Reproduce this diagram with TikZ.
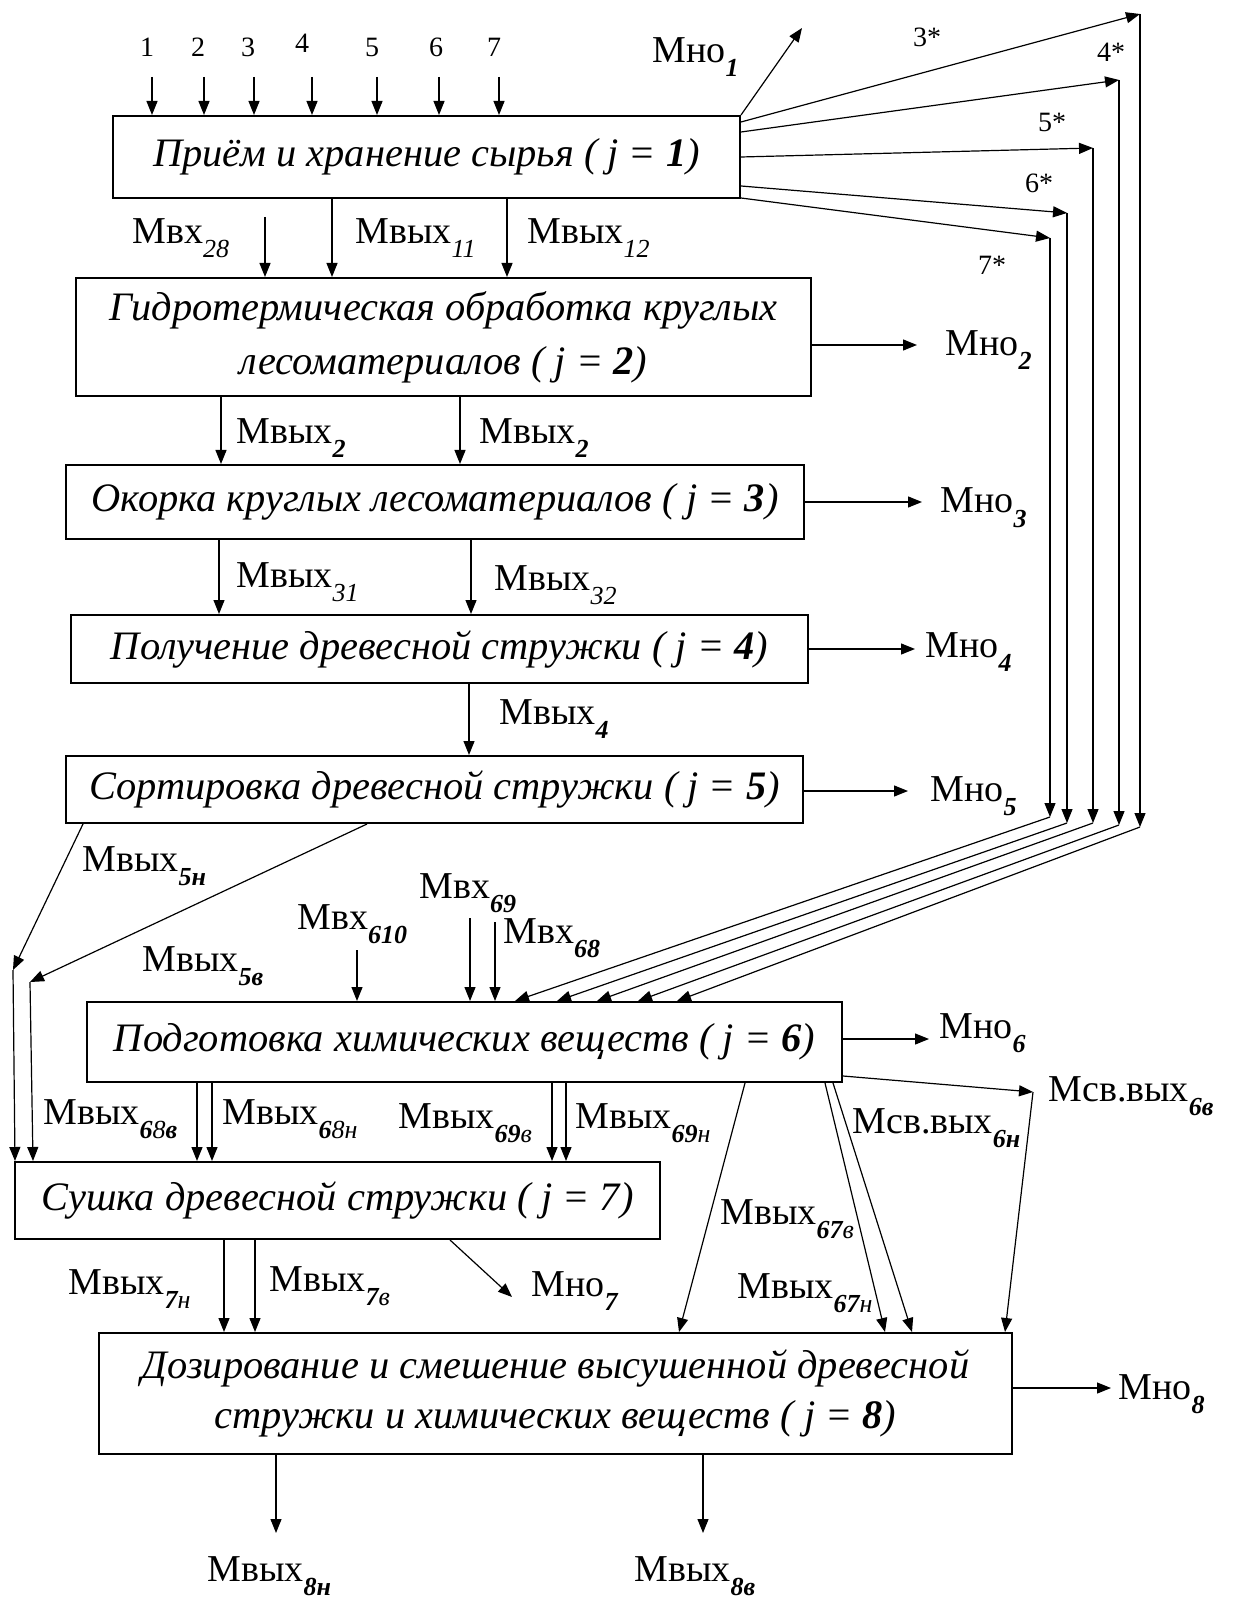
\documentclass[tikz,border=0pt]{standalone}
\usepackage{fontspec}
\setmainfont{Liberation Serif}
\usetikzlibrary{arrows.meta}
\newcommand\lsub[2]{#1\raisebox{-7pt}{\fontsize{13}{13}\selectfont\itshape #2}}
\tikzset{
  arr/.style={-{Triangle[length=7pt,width=5.5pt]}, line width=0.6pt},
  pbox/.style={draw, line width=1pt, inner sep=0pt, align=center,
    font=\fontsize{20.2}{27}\selectfont\itshape},
  lab/.style={anchor=base west, inner sep=0pt, font=\fontsize{19}{22}\selectfont},
  num/.style={inner sep=0pt, font=\fontsize{14}{16}\selectfont}
}
\begin{document}
\begin{tikzpicture}[x=0.5pt,y=-0.5pt]
\useasboundingbox (0,0) rectangle (1233,1598);

% boxes
\node[pbox, minimum width=313.5pt, minimum height=41pt] (b1) at (426.5,157) {Приём и хранение сырья ( j = \textbf{1})};
\node[pbox, minimum width=367.5pt, minimum height=59pt] (b2) at (443.5,337) {Гидротермическая обработка круглых\\ лесоматериалов ( j = \textbf{2})};
\node[pbox, minimum width=369pt, minimum height=37pt] (b3) at (435,502) {Окорка круглых лесоматериалов ( j = \textbf{3})};
\node[pbox, minimum width=368.5pt, minimum height=34pt] (b4) at (439.5,649) {Получение древесной стружки ( j = \textbf{4})};
\node[pbox, minimum width=368.5pt, minimum height=33.5pt] (b5) at (434.5,789.5) {Сортировка древесной стружки ( j = \textbf{5})};
\node[pbox, minimum width=377.5pt, minimum height=40pt] (b6) at (464.5,1042) {Подготовка химических веществ ( j = \textbf{6})};
\node[pbox, minimum width=322.5pt, minimum height=38.5pt] (b7) at (337.5,1200.5) {Сушка древесной стружки ( j = 7)};
\node[pbox, minimum width=456.5pt, minimum height=60.5pt, font=\fontsize{20.2}{25}\selectfont\itshape] (b8) at (555.5,1393.5) {Дозирование и смешение высушенной древесной\\ стружки и химических веществ ( j = \textbf{8})};

% inputs 1..7
\foreach \x/\lx/\ly/\n in {152/147/47/1,204/198/47/2,254/248/47/3,312/302/43/4,377/372/47/5,439/436/47/6,499/494/47/7}{
  \node[num] (n\n) at (\lx,\ly) {\n};
  \coordinate (in\n) at (\x,77);
  \draw[arr] (in\n) -- (b1.north -| in\n);
}

% Mno1
\coordinate (m1) at (802,28);
\draw[arr] (b1.north east) -- (m1);
\node[lab] (lm1) at (652,63) {\lsub{Мно}{\textbf{1}}};

% star outputs
\coordinate (t3) at (1140,14);  \coordinate (t3b) at (1140,827);
\coordinate (t4) at (1119,80);  \coordinate (t4b) at (1119,825);
\coordinate (t5) at (1093,148); \coordinate (t5b) at (1093,823);
\coordinate (t6) at (1067,213); \coordinate (t6b) at (1067,823);
\coordinate (t7) at (1050,238); \coordinate (t7b) at (1050,817);
\draw[arr] (b1.east |- 0,122) -- (t3);
\draw[arr] (b1.east |- 0,132) -- (t4);
\draw[arr] (b1.east |- 0,157) -- (t5);
\draw[arr] (b1.east |- 0,186) -- (t6);
\draw[arr] (b1.east |- 0,198) -- (t7);
\draw[arr] (t3) -- (t3b);
\draw[arr] (t4) -- (t4b);
\draw[arr] (t5) -- (t5b);
\draw[arr] (t6) -- (t6b);
\draw[arr] (t7) -- (t7b);
\draw[arr] (t3b) -- (b6.north -| 677,0);
\draw[arr] (t4b) -- (b6.north -| 638,0);
\draw[arr] (t5b) -- (b6.north -| 597,0);
\draw[arr] (t6b) -- (b6.north -| 557,0);
\draw[arr] (t7b) -- (b6.north -| 515,0);
\node[num] (s3) at (927,37) {3*};
\node[num] (s4) at (1111,52) {4*};
\node[num] (s5) at (1052,122) {5*};
\node[num] (s6) at (1039,183) {6*};
\node[num] (s7) at (992,265) {7*};

% b1 -> b2
\coordinate (v28) at (265,217);
\draw[arr] (v28) -- (b2.north -| v28);
\draw[arr] (b1.south -| 332,0) -- (b2.north -| 332,0);
\draw[arr] (b1.south -| 507,0) -- (b2.north -| 507,0);
\node[lab] (l28) at (132,244) {\lsub{Мвх}{28}};
\node[lab] (l11) at (355,244) {\lsub{Мвых}{11}};
\node[lab] (l12) at (527,244) {\lsub{Мвых}{12}};

% b2
\coordinate (o2) at (917,345);
\draw[arr] (b2.east |- o2) -- (o2);
\node[lab] (lo2) at (945,356) {\lsub{Мно}{\textbf{2}}};
\draw[arr] (b2.south -| 221,0) -- (b3.north -| 221,0);
\draw[arr] (b2.south -| 460,0) -- (b3.north -| 460,0);
\node[lab] (l2a) at (236,444) {\lsub{Мвых}{\textbf{2}}};
\node[lab] (l2b) at (479,444) {\lsub{Мвых}{\textbf{2}}};

% b3
\coordinate (o3) at (922,502);
\draw[arr] (b3.east |- o3) -- (o3);
\node[lab] (lo3) at (940,513) {\lsub{Мно}{\textbf{3}}};
\draw[arr] (b3.south -| 219,0) -- (b4.north -| 219,0);
\draw[arr] (b3.south -| 471,0) -- (b4.north -| 471,0);
\node[lab] (l31) at (236,587) {\lsub{Мвых}{31}};
\node[lab] (l32) at (494,590) {\lsub{Мвых}{32}};

% b4
\coordinate (o4) at (915,649);
\draw[arr] (b4.east |- o4) -- (o4);
\node[lab] (lo4) at (925,657) {\lsub{Мно}{\textbf{4}}};
\draw[arr] (b4.south -| 469,0) -- (b5.north -| 469,0);
\node[lab] (l4) at (499,724) {\lsub{Мвых}{\textbf{4}}};

% b5
\coordinate (o5) at (908,791);
\draw[arr] (b5.east |- o5) -- (o5);
\node[lab] (lo5) at (930,801) {\lsub{Мно}{\textbf{5}}};
\coordinate (c5n) at (13,970);
\coordinate (c5v) at (30,982);
\draw[arr] (b5.south -| 83,0) -- (c5n);
\draw[arr] (b5.south -| 367,0) -- (c5v);
\draw[arr] (c5n) -- (b7.north -| 15,0);
\draw[arr] (c5v) -- (b7.north -| 33,0);
\node[lab] (l5n) at (82,871) {\lsub{Мвых}{\textbf{5н}}};
\node[lab] (l5v) at (142,971) {\lsub{Мвых}{\textbf{5в}}};

% inputs to b6
\coordinate (v610) at (357,950);
\coordinate (v69) at (470,918);
\coordinate (v68) at (495,922);
\draw[arr] (v610) -- (b6.north -| v610);
\draw[arr] (v69) -- (b6.north -| v69);
\draw[arr] (v68) -- (b6.north -| v68);
\node[lab] (l610) at (297,929) {\lsub{Мвх}{\textbf{610}}};
\node[lab] (l69) at (419,898) {\lsub{Мвх}{\textbf{69}}};
\node[lab] (l68) at (503,943) {\lsub{Мвх}{\textbf{68}}};

% b6 outputs
\coordinate (o6) at (929,1039);
\draw[arr] (b6.east |- o6) -- (o6);
\node[lab] (lo6) at (939,1038) {\lsub{Мно}{\textbf{6}}};
\coordinate (sv) at (1033,1092);
\draw[arr] (b6.east |- 0,1076) -- (sv);
\draw[arr] (sv) -- (b8.north -| 1005,0);
\node[lab] (lsv) at (1048,1101) {\lsub{Мсв.вых}{\textbf{6в}}};
\draw[arr] (b6.south -| 825,0) -- (b8.north -| 885,0);
\draw[arr] (b6.south -| 833,0) -- (b8.north -| 912,0);
\node[lab] (lsn) at (852,1133) {\lsub{Мсв.вых}{\textbf{6н}}};
\draw[arr] (b6.south -| 745,0) -- (b8.north -| 679,0);
\node[lab] (l67v) at (720,1224) {\lsub{Мвых}{\textbf{67}в}};
\node[lab] (l67n) at (737,1298) {\lsub{Мвых}{\textbf{67}н}};

% b6 -> b7
\draw[arr] (b6.south -| 197,0) -- (b7.north -| 197,0);
\draw[arr] (b6.south -| 212,0) -- (b7.north -| 212,0);
\draw[arr] (b6.south -| 552,0) -- (b7.north -| 552,0);
\draw[arr] (b6.south -| 566,0) -- (b7.north -| 566,0);
\node[lab] (l68v) at (43,1124) {\lsub{Мвых}{\textbf{6}8\textbf{в}}};
\node[lab] (l68n) at (222,1124) {\lsub{Мвых}{\textbf{6}8н}};
\node[lab] (l69v) at (398,1128) {\lsub{Мвых}{\textbf{69}в}};
\node[lab] (l69n) at (575,1128) {\lsub{Мвых}{\textbf{69}н}};

% b7 -> b8
\draw[arr] (b7.south -| 224,0) -- (b8.north -| 224,0);
\draw[arr] (b7.south -| 255,0) -- (b8.north -| 255,0);
\node[lab] (l7n) at (68,1294) {\lsub{Мвых}{\textbf{7}н}};
\node[lab] (l7v) at (269,1291) {\lsub{Мвых}{\textbf{7}в}};
\coordinate (o7) at (512,1297);
\draw[arr] (b7.south -| 450,0) -- (o7);
\node[lab] (lo7) at (531,1296) {\lsub{Мно}{\textbf{7}}};

% b8 outputs
\coordinate (o8) at (1111,1388);
\draw[arr] (b8.east |- o8) -- (o8);
\node[lab] (lo8) at (1118,1399) {\lsub{Мно}{\textbf{8}}};
\coordinate (e8n) at (276,1533);
\coordinate (e8v) at (703,1533);
\draw[arr] (b8.south -| e8n) -- (e8n);
\draw[arr] (b8.south -| e8v) -- (e8v);
\node[lab] (l8n) at (207,1581) {\lsub{Мвых}{\textbf{8н}}};
\node[lab] (l8v) at (634,1581) {\lsub{Мвых}{\textbf{8в}}};
\end{tikzpicture}
\end{document}
